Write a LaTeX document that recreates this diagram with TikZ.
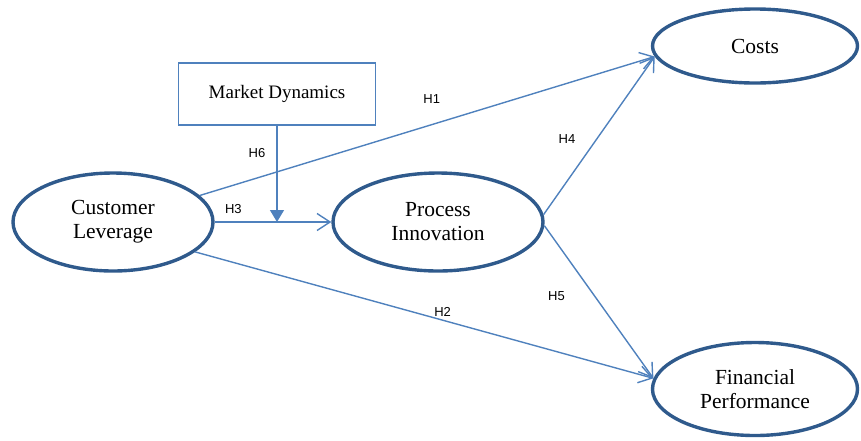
\documentclass[tikz,border=0pt]{standalone}
\usepackage{fontspec}
\setmainfont{Liberation Serif}
\newfontfamily\hypfont{Liberation Sans}
\usetikzlibrary{positioning,arrows.meta,shapes.geometric}
\definecolor{linkblue}{HTML}{4F81BD}
\definecolor{ringblue}{HTML}{2F5A8C}
\tikzset{
  construct/.style={ellipse,draw=ringblue,line width=3.4pt,inner sep=0pt,align=center,font=\fontsize{21.5}{24}\selectfont},
  moderator/.style={rectangle,draw=linkblue,line width=1.6pt,minimum width=197pt,minimum height=62pt,font=\fontsize{19}{22}\selectfont},
  link/.style={draw=linkblue,line width=1.4pt,-{Straight Barb[length=13pt,width=17pt]}},
  hyp/.style={inner sep=1pt,font=\hypfont\fontsize{13}{15}\selectfont}
}

\begin{document}
\begin{tikzpicture}[x=1pt,y=-1pt]
\useasboundingbox (0,0) rectangle (861,440);
\node[construct,minimum width=200pt,minimum height=98pt] (cl) at (113,222) {Customer\\Leverage};
\node[construct,minimum width=210pt,minimum height=98pt] (pi) at (438,222) {Process\\Innovation};
\node[construct,minimum width=205pt,minimum height=74pt] (costs) at (755,46) {Costs};
\node[construct,minimum width=205pt,minimum height=93pt] (fp) at (755,389) {Financial\\Performance};
\node[moderator] (md) at (277,94) {Market Dynamics};
\coordinate (mdjoin) at (md.south |- cl.east);
\draw[link] (cl.17) -- (costs.186) node[hyp,pos=.51,above=19.5pt] {H1};
\draw[link] (cl.-20) -- (fp.174) node[hyp,pos=.54,above=1.5pt] {H2};
\draw[link] (cl.east) -- (pi.west) node[hyp,pos=.16,above=6.5pt] {H3};
\draw[link] (pi.4) -- (costs.186) node[hyp,pos=.48,left=20pt] {H4};
\draw[link] (pi.-2) -- (fp.174) node[hyp,pos=.46,left=28pt] {H5};
\draw[link,-{Triangle[length=12pt,width=14pt]}] (md) -- (mdjoin) node[hyp,pos=.28,left=10pt] {H6};
\end{tikzpicture}
\end{document}
